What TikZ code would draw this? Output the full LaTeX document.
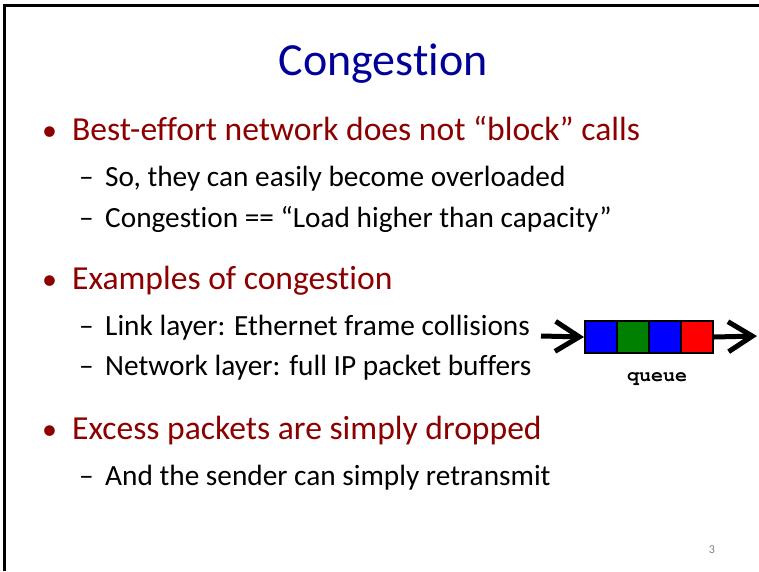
\documentclass[tikz,border=0pt]{standalone}
\usepackage[T1,TU]{fontenc}
\usepackage{fontspec}
\setmainfont[RawFeature=-liga]{Carlito}
\usetikzlibrary{calc,arrows.meta}
\definecolor{titleblue}{RGB}{0,0,153}
\definecolor{bulletred}{RGB}{140,0,0}
\definecolor{qgreen}{RGB}{0,128,0}
\newcommand{\queuefont}{\fontencoding{T1}\fontfamily{pcr}\fontseries{b}\fontsize{20}{22}\selectfont}

\begin{document}
\begin{tikzpicture}[x=1pt,y=-1pt,
    lvlone/.style={anchor=base west,inner sep=0,text=bulletred,font=\fontsize{33.6}{36}\selectfont},
    lvltwo/.style={anchor=base west,inner sep=0,text=black,font=\fontsize{29.3}{32}\selectfont},
    qarrow/.style={line width=5pt,-{Straight Barb[length=24pt,width=30pt]}}]
    \useasboundingbox (0,0) rectangle (759,571);
    \fill[white] (0,0) rectangle (759,571);
    \draw[line width=3pt] (4,571) -- (4,5) -- (759,5);
    \node[anchor=base,inner sep=0,text=titleblue,font=\fontsize{46}{50}\selectfont] (title) at (383,75) {Congestion};
    % bullets
    \foreach \y/\t [count=\i] in {140/Best-effort network does not “block” calls,
                                  289/Examples of congestion,
                                  439/Excess packets are simply dropped} {
        \node[lvlone,font=\fontsize{30}{32}\selectfont] (dot\i) at (42,\y) {•};
        \node[lvlone] (b\i) at (72,\y) {\t};
    };
    % sub items
    \foreach \y/\t [count=\i] in {186/So{,} they can easily become overloaded,
                                  227/Congestion == “Load higher than capacity”,
                                  335/Link layer: Ethernet frame collisions,
                                  375/Network layer: full IP packet buffers,
                                  485/And the sender can simply retransmit} {
        \node[lvltwo] (dash\i) at (79,\y) {–};
        \node[lvltwo] (s\i) at (105,\y) {\t};
    };
    % queue
    \foreach \c [count=\i from 0] in {blue,qgreen,blue,red} {
        \node[draw=black,line width=2pt,fill=\c,minimum width=32pt,minimum height=32pt,
              inner sep=0,anchor=north west] (q\i) at ({584+32*\i},320) {};
    };
    \coordinate (qin) at (541,336);
    \coordinate (qout) at (757,336);
    \draw[qarrow] (qin) -- (q0.west);
    \draw[qarrow] (q3.east) -- (qout);
    \node[anchor=base,inner sep=0,font=\queuefont] (qlabel) at (657,381) {queue};
    \node[anchor=base,inner sep=0,text=gray,font=\fontsize{12}{14}\selectfont] (pageno) at (712,553) {3};
\end{tikzpicture}
\end{document}
